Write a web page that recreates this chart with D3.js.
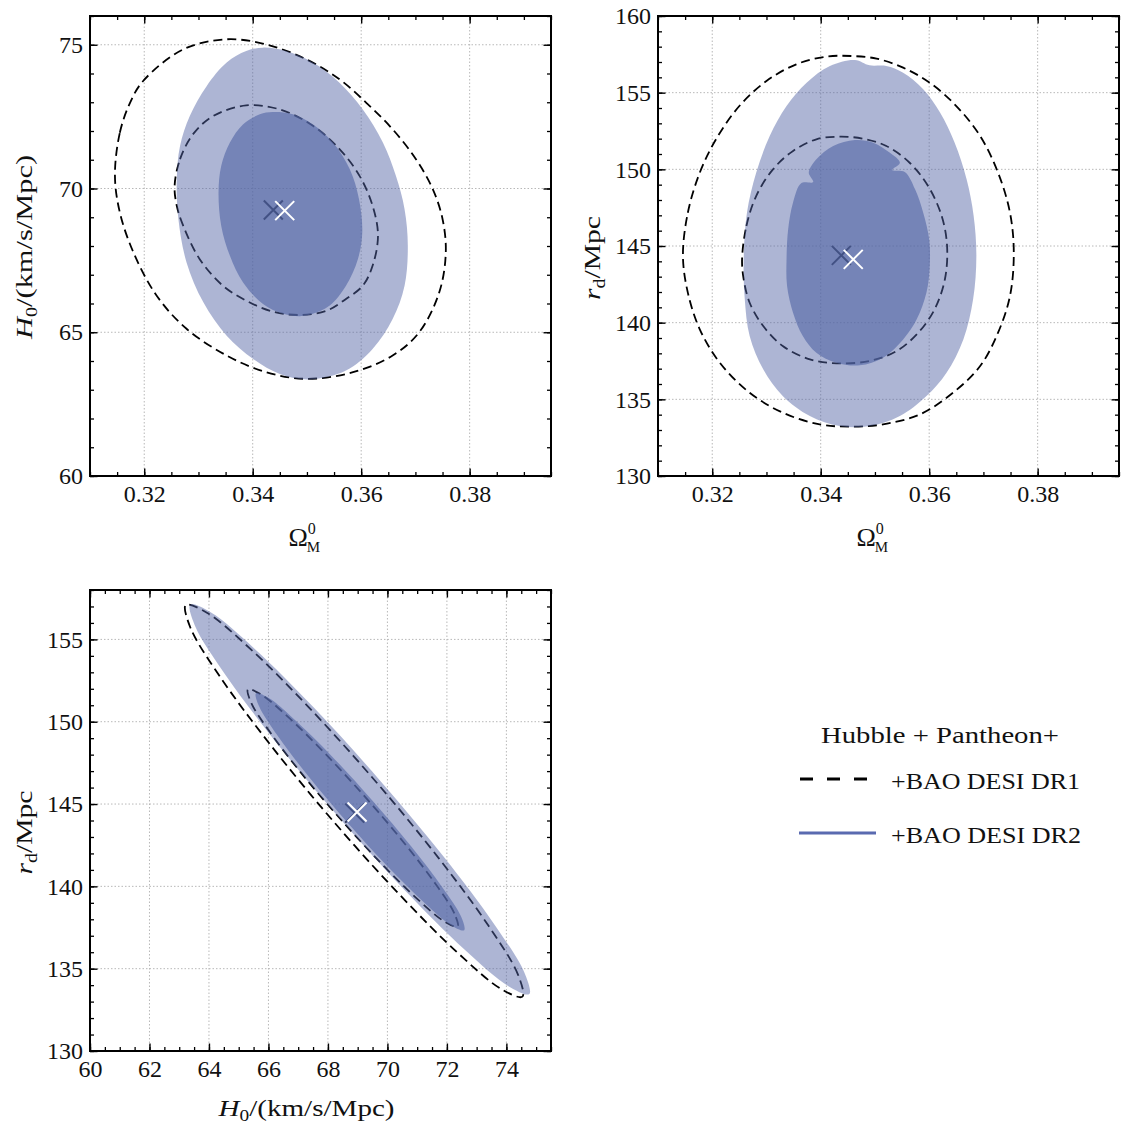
<!DOCTYPE html>
<html><head><meta charset="utf-8">
<script src="https://cdn.jsdelivr.net/npm/d3@7"></script>
<style>
body{margin:0;background:#fff}
text{font-family:"Liberation Serif","Times New Roman",serif;fill:#111}
</style>
</head><body>
<svg id="c" width="1123" height="1129"></svg>
<script>
// ---------------- DATA ----------------
// Panel 1: Omega_M vs H0
const p1_dr1_2sigma = [[0.3146,70.44],[0.3155,71.94],[0.3174,72.99],[0.3198,73.74],[0.3272,74.84],[0.3352,75.19],[0.3425,75.01],[0.3499,74.49],[0.3560,73.80],[0.3609,72.99],[0.3658,72.06],[0.3701,71.02],[0.3732,69.98],[0.3750,68.94],[0.3756,67.78],[0.3744,66.39],[0.3707,65.00],[0.3658,64.19],[0.3585,63.61],[0.3499,63.38],[0.3425,63.61],[0.3352,64.19],[0.3278,65.12],[0.3223,66.27],[0.3180,67.78],[0.3155,69.17]];
const p1_dr1_1sigma = [[0.3256,70.09],[0.3266,71.02],[0.3290,71.89],[0.3327,72.52],[0.3388,72.89],[0.3450,72.75],[0.3511,72.18],[0.3560,71.37],[0.3597,70.44],[0.3621,69.40],[0.3631,68.36],[0.3621,67.31],[0.3603,66.62],[0.3572,66.16],[0.3536,65.75],[0.3487,65.60],[0.3437,65.72],[0.3388,66.10],[0.3345,66.62],[0.3302,67.55],[0.3272,68.70],[0.3260,69.40]];
const p1_dr2_2sigma = [[0.3260,70.32],[0.3266,71.48],[0.3284,72.52],[0.3315,73.56],[0.3352,74.38],[0.3388,74.78],[0.3419,74.90],[0.3462,74.78],[0.3511,74.38],[0.3560,73.68],[0.3603,72.75],[0.3640,71.60],[0.3664,70.44],[0.3680,69.28],[0.3686,68.01],[0.3680,66.62],[0.3658,65.46],[0.3621,64.42],[0.3572,63.67],[0.3505,63.36],[0.3450,63.55],[0.3401,64.07],[0.3352,64.88],[0.3309,66.04],[0.3278,67.43],[0.3263,68.94]];
const p1_dr2_1sigma = [[0.3337,69.86],[0.3342,70.79],[0.3358,71.60],[0.3382,72.23],[0.3413,72.58],[0.3437,72.66],[0.3474,72.58],[0.3511,72.23],[0.3548,71.60],[0.3579,70.67],[0.3596,69.63],[0.3602,68.47],[0.3594,67.55],[0.3572,66.62],[0.3542,65.93],[0.3511,65.64],[0.3487,65.56],[0.3456,65.64],[0.3419,65.98],[0.3382,66.74],[0.3358,67.66],[0.3342,68.70]];
const p1_bestfit_dr1 = [0.3438, 69.25];
const p1_bestfit_dr2 = [0.3459, 69.23];

// Panel 2: Omega_M vs r_d
const p2_dr1_2sigma = [[0.3146,144.35],[0.3155,147.17],[0.3177,149.78],[0.3207,151.96],[0.3250,154.13],[0.3300,155.76],[0.3355,156.85],[0.3410,157.35],[0.3457,157.39],[0.3503,157.22],[0.3552,156.63],[0.3601,155.65],[0.3650,154.13],[0.3694,152.17],[0.3727,149.78],[0.3749,147.17],[0.3756,144.57],[0.3749,141.74],[0.3727,139.35],[0.3694,137.17],[0.3644,135.43],[0.3583,134.02],[0.3515,133.37],[0.3454,133.22],[0.3398,133.37],[0.3330,134.13],[0.3269,135.43],[0.3214,137.39],[0.3177,139.57],[0.3155,141.96]];
const p2_dr1_1sigma = [[0.3255,144.13],[0.3263,146.30],[0.3281,148.26],[0.3312,150.00],[0.3349,151.20],[0.3392,151.96],[0.3435,152.13],[0.3478,152.00],[0.3521,151.52],[0.3564,150.43],[0.3598,148.91],[0.3623,146.96],[0.3633,145.00],[0.3629,142.83],[0.3610,140.87],[0.3580,139.35],[0.3540,138.15],[0.3490,137.50],[0.3429,137.35],[0.3380,137.61],[0.3330,138.48],[0.3294,139.78],[0.3269,141.30],[0.3258,142.83]];
const p2_dr2_2sigma = [[0.3258,144.13],[0.3264,147.17],[0.3281,149.78],[0.3306,152.17],[0.3337,154.13],[0.3374,155.65],[0.3417,156.74],[0.3463,157.13],[0.3490,156.78],[0.3521,156.74],[0.3552,156.30],[0.3589,155.22],[0.3620,153.70],[0.3647,151.74],[0.3669,149.35],[0.3682,146.96],[0.3687,144.35],[0.3681,141.52],[0.3663,138.91],[0.3632,136.74],[0.3595,135.22],[0.3546,133.91],[0.3490,133.26],[0.3435,133.26],[0.3380,133.91],[0.3330,135.22],[0.3294,136.96],[0.3269,139.13],[0.3260,141.52]];
const p2_dr2_1sigma = [[0.3337,144.13],[0.3340,146.09],[0.3349,147.83],[0.3364,149.09],[0.3386,149.17],[0.3378,149.78],[0.3392,150.65],[0.3423,151.52],[0.3463,151.91],[0.3497,151.74],[0.3527,151.09],[0.3546,150.43],[0.3532,149.96],[0.3555,149.83],[0.3574,148.70],[0.3589,147.17],[0.3600,145.43],[0.3601,143.70],[0.3595,141.96],[0.3577,140.22],[0.3552,138.91],[0.3515,137.72],[0.3472,137.22],[0.3429,137.39],[0.3392,138.04],[0.3367,139.13],[0.3349,140.65],[0.3338,142.39]];
const p2_bestfit_dr1 = [0.3438, 144.39];
const p2_bestfit_dr2 = [0.3460, 144.13];

// Panel 3: H0 vs r_d
const p3_dr1_2sigma = [[74.54,133.30],[74.39,134.64],[73.40,137.60],[71.73,141.70],[69.62,146.34],[67.39,150.81],[65.40,154.41],[63.93,156.62],[63.22,157.09],[63.37,155.74],[64.35,152.79],[66.03,148.68],[68.14,144.04],[70.37,139.57],[72.36,135.97],[73.83,133.76]];
const p3_dr1_1sigma = [[72.36,137.56],[72.25,138.36],[71.62,140.14],[70.57,142.62],[69.25,145.43],[67.87,148.13],[66.64,150.32],[65.74,151.67],[65.31,151.96],[65.42,151.15],[66.05,149.37],[67.10,146.89],[68.42,144.09],[69.80,141.38],[71.03,139.19],[71.93,137.85]];
const p3_dr2_2sigma = [[74.77,133.46],[74.60,134.78],[73.59,137.70],[71.90,141.78],[69.77,146.39],[67.54,150.83],[65.54,154.42],[64.07,156.63],[63.37,157.11],[63.54,155.78],[64.55,152.86],[66.24,148.79],[68.37,144.18],[70.60,139.73],[72.60,136.15],[74.07,133.94]];
const p3_dr2_1sigma = [[72.58,137.34],[72.48,138.15],[71.85,139.93],[70.81,142.40],[69.50,145.20],[68.13,147.91],[66.90,150.09],[66.01,151.44],[65.58,151.72],[65.69,150.92],[66.31,149.14],[67.35,146.67],[68.66,143.86],[70.03,141.16],[71.26,138.98],[72.15,137.63]];
const p3_bestfit_dr1 = [68.90, 144.45];
const p3_bestfit_dr2 = [68.98, 144.52];

// Tick labels
const p1XTicks = [0.32, 0.34, 0.36, 0.38];
const p1YTicks = [60, 65, 70, 75];
const p2YTicks = [130, 135, 140, 145, 150, 155, 160];
const p3XTicks = [60, 62, 64, 66, 68, 70, 72, 74];
const p3YTicks = [130, 135, 140, 145, 150, 155];

// Legend
const legendTitle = "Hubble + Pantheon+";
const legendLabels = ["+BAO DESI DR1", "+BAO DESI DR2"];

// ---------------- DRAW ----------------
const svg = d3.select("#c");
const BASE = "#5365a5";

const panels = [
  {left:90, top:16, w:461, h:460, xd:[0.31,0.395], yd:[60,76], xt:p1XTicks, yt:p1YTicks,
   xm:0.005, ym:1, fmt:d3.format(".2f"),
   dr1:[p1_dr1_2sigma,p1_dr1_1sigma], dr2:[p1_dr2_2sigma,p1_dr2_1sigma], b1:p1_bestfit_dr1, b2:p1_bestfit_dr2,
   xlab:"omega", ylab:"H0"},
  {left:658, top:16, w:461, h:460, xd:[0.31,0.395], yd:[130,160], xt:p1XTicks, yt:p2YTicks,
   xm:0.005, ym:1, fmt:d3.format(".2f"),
   dr1:[p2_dr1_2sigma,p2_dr1_1sigma], dr2:[p2_dr2_2sigma,p2_dr2_1sigma], b1:p2_bestfit_dr1, b2:p2_bestfit_dr2,
   xlab:"omega", ylab:"rd"},
  {left:90, top:590, w:461, h:461, xd:[60,75.5], yd:[130,158], xt:p3XTicks, yt:p3YTicks,
   xm:0.5, ym:1, fmt:d3.format("d"),
   dr1:[p3_dr1_2sigma,p3_dr1_1sigma], dr2:[p3_dr2_2sigma,p3_dr2_1sigma], b1:p3_bestfit_dr1, b2:p3_bestfit_dr2,
   xlab:"H0", ylab:"rd"}
];

function cross(x, y, cx, cy, s) {
  const X = x(cx), Y = y(cy);
  return `M${X-s},${Y-s}L${X+s},${Y+s}M${X-s},${Y+s}L${X+s},${Y-s}`;
}
function addH0(t) {
  t.append("tspan").attr("font-style","italic").text("H");
  t.append("tspan").attr("font-size", 16).attr("dy", 5).text("0");
  t.append("tspan").attr("dy", -5).text("/(km/s/Mpc)");
}
function addRd(t) {
  t.append("tspan").attr("font-style","italic").text("r");
  t.append("tspan").attr("font-size", 16).attr("dy", 5).text("d");
  t.append("tspan").attr("dy", -5).text("/Mpc");
}

panels.forEach((p, i) => {
  const x = d3.scaleLinear().domain(p.xd).range([p.left, p.left + p.w]);
  const y = d3.scaleLinear().domain(p.yd).range([p.top + p.h, p.top]);
  const g = svg.append("g");
  const cid = "clip" + i;
  svg.append("clipPath").attr("id", cid).append("rect")
     .attr("x", p.left).attr("y", p.top).attr("width", p.w).attr("height", p.h);

  // grid
  const grid = g.append("g").attr("stroke", "#b8b8b8").attr("stroke-width", 1).attr("stroke-dasharray", "1.5,2");
  p.xt.filter(v => v > p.xd[0] && v < p.xd[1]).forEach(v => {
    grid.append("line").attr("x1", x(v)).attr("x2", x(v)).attr("y1", p.top).attr("y2", p.top + p.h);
  });
  p.yt.filter(v => v > p.yd[0] && v < p.yd[1]).forEach(v => {
    grid.append("line").attr("y1", y(v)).attr("y2", y(v)).attr("x1", p.left).attr("x2", p.left + p.w);
  });

  const plot = g.append("g").attr("clip-path", `url(#${cid})`);
  const line = d3.line().x(d => x(d[0])).y(d => y(d[1])).curve(d3.curveCatmullRomClosed.alpha(0.5));

  // DR1 dashed contours (under DR2 fills)
  p.dr1.forEach(c => {
    plot.append("path").attr("d", line(c)).attr("fill", "none")
      .attr("stroke", "#000").attr("stroke-width", 1.8).attr("stroke-dasharray", "9,5");
  });
  plot.append("path").attr("d", cross(x, y, p.b1[0], p.b1[1], 9.5))
    .attr("stroke", "#000").attr("stroke-width", 2).attr("fill", "none");

  // DR2 filled contours
  plot.append("path").attr("d", line(p.dr2[0])).attr("fill", BASE).attr("fill-opacity", 0.477);
  plot.append("path").attr("d", line(p.dr2[1])).attr("fill", BASE).attr("fill-opacity", 0.62);

  plot.append("path").attr("d", cross(x, y, p.b2[0], p.b2[1], 9.5))
    .attr("stroke", "#fff").attr("stroke-width", 2).attr("fill", "none");

  // axes
  const minorX = d3.range(Math.round(p.xd[0] / p.xm), Math.round(p.xd[1] / p.xm) + 1).map(k => +(k * p.xm).toFixed(4));
  const minorY = d3.range(Math.round(p.yd[0] / p.ym), Math.round(p.yd[1] / p.ym) + 1).map(k => k * p.ym);
  const bottom = p.top + p.h, right = p.left + p.w;
  const axes = [
    [() => d3.axisBottom(x), `translate(0,${bottom})`, minorX, p.xt, true, false],
    [() => d3.axisTop(x), `translate(0,${p.top})`, minorX, p.xt, false, false],
    [() => d3.axisLeft(y), `translate(${p.left},0)`, minorY, p.yt, true, true],
    [() => d3.axisRight(y), `translate(${right},0)`, minorY, p.yt, false, true]
  ];
  axes.forEach(([mk, tr, minor, major, labels, isY]) => {
    const mg = g.append("g").attr("transform", tr)
      .call(mk().tickValues(minor).tickSizeInner(-4).tickSizeOuter(0).tickFormat(""));
    mg.select(".domain").remove();
    mg.selectAll(".tick line").attr("stroke", "#000").attr("stroke-width", 1.3);
    const Mg = g.append("g").attr("transform", tr)
      .call(mk().tickValues(major).tickSizeInner(-7.5).tickSizeOuter(0)
        .tickPadding(isY ? 7 : 9).tickFormat(labels ? (isY ? d3.format("d") : p.fmt) : ""));
    Mg.attr("font-family", null).attr("font-size", null);
    Mg.select(".domain").remove();
    Mg.selectAll(".tick line").attr("stroke", "#000").attr("stroke-width", 1.4);
    Mg.selectAll(".tick text").attr("font-size", 24).attr("fill", "#111")
      .style("font-family", '"Liberation Serif",serif');
  });

  // frame
  g.append("rect").attr("x", p.left).attr("y", p.top).attr("width", p.w).attr("height", p.h)
    .attr("fill", "none").attr("stroke", "#000").attr("stroke-width", 2);

  // axis labels
  const cx = p.left + p.w / 2;
  if (p.xlab === "omega") {
    const t = svg.append("text").attr("x", cx - 32).attr("y", 546).attr("font-size", 26);
    t.append("tspan").text("Ω");
    t.append("tspan").attr("font-size", 16).attr("dy", -12).text("0");
    t.append("tspan").attr("font-size", 15).attr("dx", -9).attr("dy", 18).text("M");
  } else {
    const t = svg.append("text").attr("x", cx - 14).attr("y", 1116).attr("font-size", 24)
      .attr("text-anchor", "middle").attr("textLength", 176).attr("lengthAdjust", "spacingAndGlyphs");
    addH0(t);
  }
  const ly = p.top + p.h / 2;
  const lx = p.left - 58;
  if (p.ylab === "H0") {
    const t = svg.append("text").attr("transform", `translate(${lx},${ly + 1}) rotate(-90)`)
      .attr("font-size", 24).attr("text-anchor", "middle").attr("textLength", 184).attr("lengthAdjust", "spacingAndGlyphs");
    addH0(t);
  } else {
    const t = svg.append("text").attr("transform", `translate(${lx},${ly + 12}) rotate(-90)`)
      .attr("font-size", 24).attr("text-anchor", "middle").attr("textLength", 84).attr("lengthAdjust", "spacingAndGlyphs");
    addRd(t);
  }
});

// legend
const lg = svg.append("g");
lg.append("text").attr("x", 940).attr("y", 743).attr("font-size", 24).attr("text-anchor", "middle")
  .attr("textLength", 238).attr("lengthAdjust", "spacingAndGlyphs").text(legendTitle);
lg.append("line").attr("x1", 800).attr("x2", 867).attr("y1", 779).attr("y2", 779)
  .attr("stroke", "#000").attr("stroke-width", 3).attr("stroke-dasharray", "13,14");
lg.append("text").attr("x", 891).attr("y", 789).attr("font-size", 24)
  .attr("textLength", 189).attr("lengthAdjust", "spacingAndGlyphs").text(legendLabels[0]);
lg.append("line").attr("x1", 799).attr("x2", 876).attr("y1", 833).attr("y2", 833)
  .attr("stroke", "#5a6ab0").attr("stroke-width", 3);
lg.append("text").attr("x", 891).attr("y", 843).attr("font-size", 24)
  .attr("textLength", 190).attr("lengthAdjust", "spacingAndGlyphs").text(legendLabels[1]);
</script>
</body></html>
